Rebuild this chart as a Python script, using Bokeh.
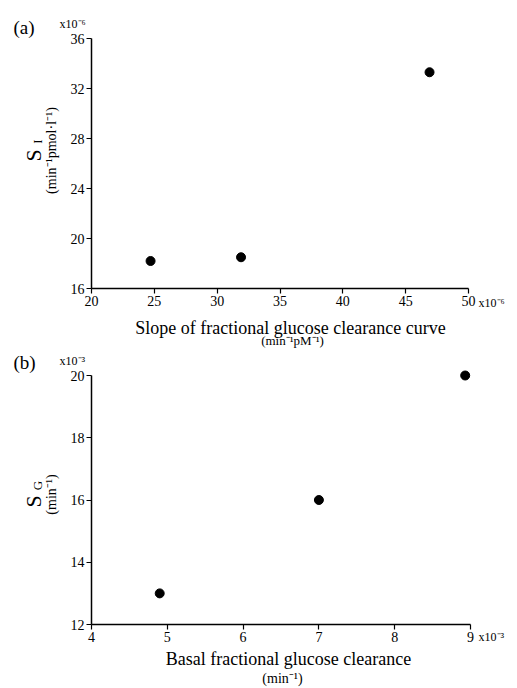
from bokeh.plotting import figure
from bokeh.layouts import column
from bokeh.models import Label, FixedTicker
from bokeh.embed import file_html
from bokeh.resources import INLINE

# Panel (a)
a_x = [24.7, 31.9, 46.9]      # slope of fractional glucose clearance curve (x1e-6)
a_y = [18.2, 18.5, 33.3]      # S_I (x1e-6)
a_xticks = [20, 25, 30, 35, 40, 45, 50]
a_yticks = [16, 20, 24, 28, 32, 36]

# Panel (b)
b_x = [4.9, 7.0, 8.93]        # basal fractional glucose clearance (x1e-3)
b_y = [13.0, 16.0, 20.0]      # S_G (x1e-3)
b_xticks = [4, 5, 6, 7, 8, 9]
b_yticks = [12, 14, 16, 18, 20]

SERIF = "Liberation Serif"
W = 510


def span(v0, p0, v1, p1, total):
    """range so that value v0 sits at pixel p0 and v1 at pixel p1 (pixels from start side)"""
    per = (v1 - v0) / (p1 - p0)
    start = v0 - p0 * per
    return start, start + total * per


def make_fig(xs, ys, xt, yt, H, xl, xr, yt_px, yb_px):
    x0, x1 = span(xt[0], xl, xt[-1], xr, W)
    # y measured from the bottom of the canvas
    y0, y1 = span(yt[0], H - yb_px, yt[-1], H - yt_px, H)
    p = figure(width=W, height=H, output_backend="svg", toolbar_location=None,
               x_range=(x0, x1), y_range=(y0, y1),
               min_border_left=0, min_border_right=0,
               min_border_top=0, min_border_bottom=0)
    p.outline_line_color = None
    p.xgrid.visible = False
    p.ygrid.visible = False
    p.background_fill_color = "white"
    p.border_fill_color = "white"
    p.xaxis[0].fixed_location = yt[0]
    p.yaxis[0].fixed_location = xt[0]
    for ax, ticks in ((p.xaxis[0], xt), (p.yaxis[0], yt)):
        ax.ticker = FixedTicker(ticks=ticks)
        ax.bounds = (ticks[0], ticks[-1])
        ax.minor_tick_line_color = None
        ax.major_tick_in = 0
        ax.major_tick_out = 5
        ax.axis_line_width = 1.5
        ax.axis_line_color = "black"
        ax.major_tick_line_color = "black"
        ax.major_tick_line_width = 1.2
        ax.major_label_text_font = SERIF
        ax.major_label_text_font_size = "14px"
        ax.major_label_text_color = "black"
        ax.major_label_standoff = 2
    p.scatter(xs, ys, size=9, color="black")
    return p


def lab(p, H, x, y, text, size, angle=0, align="left"):
    p.add_layout(Label(x=x, y=H - y, x_units="screen", y_units="screen", text=text,
                       text_font=SERIF, text_font_size=size, text_color="black",
                       angle=angle, angle_units="deg", text_align=align,
                       text_baseline="alphabetic"))


H1 = 348
p1 = make_fig(a_x, a_y, a_xticks, a_yticks, H1, 91, 468, 38, 288)
lab(p1, H1, 13, 27, "(a)", "19px")
lab(p1, H1, 59, 23, "x10\u207b\u2076", "12px")
lab(p1, H1, 33, 155, "S", "22px", angle=90, align="center")
lab(p1, H1, 37, 141, "I", "13px", angle=90, align="center")
lab(p1, H1, 51, 150, "(min\u207b\u00b9pmol\u00b7l\u207b\u00b9)", "14px", angle=90, align="center")
lab(p1, H1, 290, 327, "Slope of fractional glucose clearance curve", "18px", align="center")
lab(p1, H1, 292, 340, "(min\u207b\u00b9pM\u207b\u00b9)", "13px", align="center")
lab(p1, H1, 478, 302, "x10\u207b\u2076", "12px")

H2 = 340
p2 = make_fig(b_x, b_y, b_xticks, b_yticks, H2, 91, 470, 27, 276)
lab(p2, H2, 13, 14, "(b)", "19px")
lab(p2, H2, 59, 12, "x10\u207b\u00b3", "12px")
lab(p2, H2, 33, 153, "S", "22px", angle=90, align="center")
lab(p2, H2, 37, 137, "G", "13px", angle=90, align="center")
lab(p2, H2, 51, 146, "(min\u207b\u00b9)", "14px", angle=90, align="center")
lab(p2, H2, 288, 310, "Basal fractional glucose clearance", "18px", align="center")
lab(p2, H2, 282, 330, "(min\u207b\u00b9)", "14px", align="center")
lab(p2, H2, 478, 288, "x10\u207b\u00b3", "12px")

layout = column(p1, p2, spacing=0)
open("out.html", "w").write(file_html(layout, INLINE))
